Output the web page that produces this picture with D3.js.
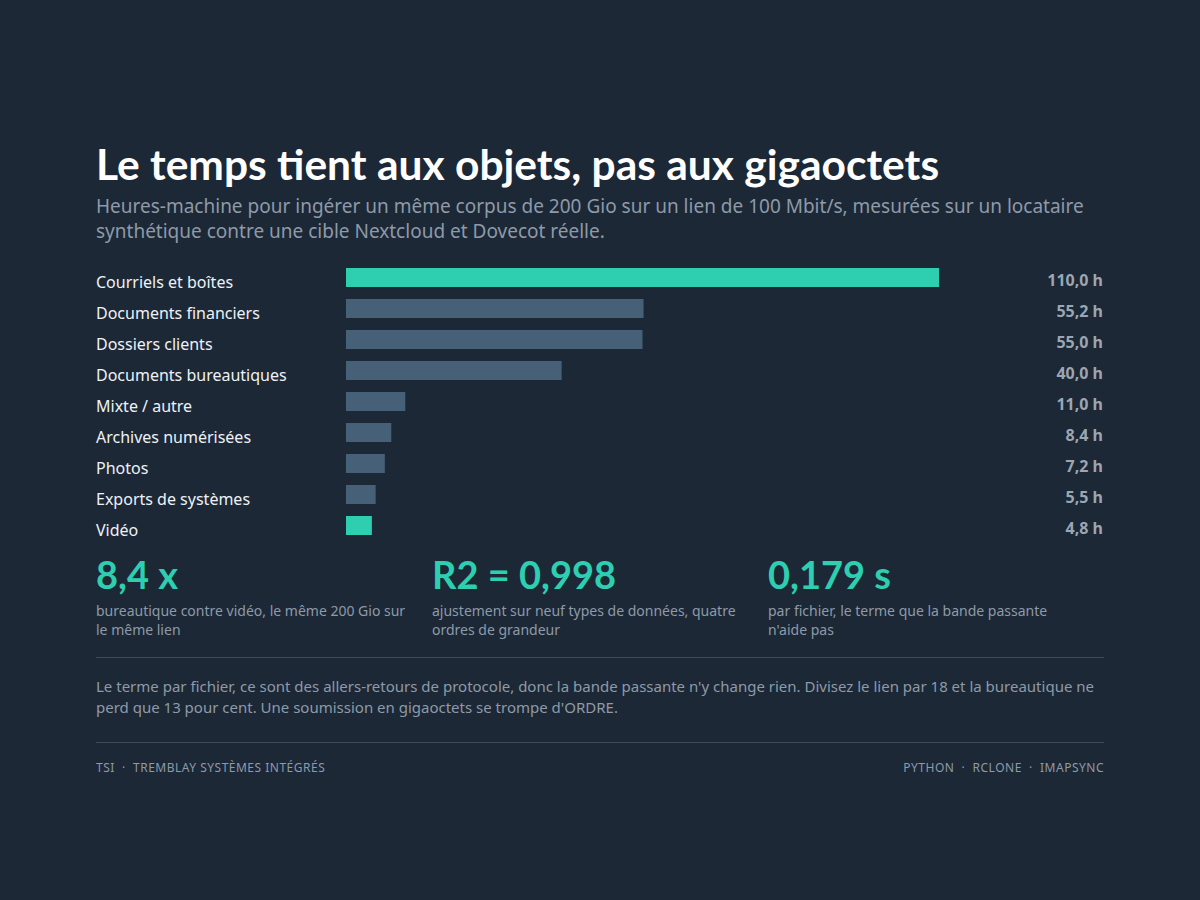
<!DOCTYPE html>
<html lang="fr">
<head>
  <meta charset="UTF-8" />
  <title>Le temps tient aux objets, pas aux gigaoctets</title>
  <script src="https://d3js.org/d3.v7.min.js"></script>
  <style>
    html, body {
      margin: 0;
      padding: 0;
      background-color: #1c2836;
    }
    svg {
      display: block;
    }
    text {
      font-family: 'Noto Sans', sans-serif;
      white-space: pre;
    }
    .title, .stat {
      font-family: Lato, sans-serif;
      font-weight: 700;
    }
  </style>
</head>
<body>
  <div id="chart"></div>

  <script>
    // Data
    const categories = [
      "Courriels et boîtes", "Documents financiers", "Dossiers clients",
      "Documents bureautiques", "Mixte / autre", "Archives numérisées",
      "Photos", "Exports de systèmes", "Vidéo"
    ];
    const hours = [110.0, 55.2, 55.0, 40.0, 11.0, 8.4, 7.2, 5.5, 4.8];
    const highlighted = ["Courriels et boîtes", "Vidéo"];

    const statValues = ["8,4 x", "R2 = 0,998", "0,179 s"];
    const statNotes = [
      ["bureautique contre vidéo, le même 200 Gio sur", "le même lien"],
      ["ajustement sur neuf types de données, quatre", "ordres de grandeur"],
      ["par fichier, le terme que la bande passante", "n'aide pas"]
    ];

    const titleText = "Le temps tient aux objets, pas aux gigaoctets";
    const subtitleLines = [
      "Heures-machine pour ingérer un même corpus de 200 Gio sur un lien de 100 Mbit/s, mesurées sur un locataire",
      "synthétique contre une cible Nextcloud et Dovecot réelle."
    ];
    const noteLines = [
      "Le terme par fichier, ce sont des allers-retours de protocole, donc la bande passante n'y change rien. Divisez le lien par 18 et la bureautique ne",
      "perd que 13 pour cent. Une soumission en gigaoctets se trompe d'ORDRE."
    ];
    const footerLeft = ["TSI", "TREMBLAY SYSTÈMES INTÉGRÉS"];
    const footerRight = ["PYTHON", "RCLONE", "IMAPSYNC"];

    const width = 1200, height = 900;
    const left = 96, right = 1104;
    const teal = "#2ecfb0", slate = "#466078";
    const muted = "#8e9aa8", rule = "#3b4a5a";

    const svg = d3.select("#chart")
      .append("svg")
      .attr("width", width)
      .attr("height", height);

    svg.append("rect")
      .attr("width", width)
      .attr("height", height)
      .attr("fill", "#1c2836");

    // Heading
    svg.append("text")
      .attr("class", "title")
      .attr("x", left)
      .attr("y", 180)
      .attr("font-size", "42.5px")
      .attr("fill", "#ffffff")
      .text(titleText);

    svg.append("g")
      .selectAll("text")
      .data(subtitleLines)
      .enter()
      .append("text")
      .attr("x", left)
      .attr("y", (d, i) => 213 + i * 25)
      .attr("font-size", "19px")
      .attr("fill", muted)
      .text(d => d);

    // Bars
    const x = d3.scaleLinear()
      .domain([0, 110])
      .range([346, 939]);

    const y = d3.scaleBand()
      .domain(categories)
      .range([262, 541])
      .paddingInner(12 / 31)
      .paddingOuter(6 / 31);

    const rows = svg.append("g")
      .selectAll("g")
      .data(categories.map((c, i) => ({ name: c, value: hours[i] })))
      .enter()
      .append("g");

    rows.append("rect")
      .attr("x", x(0))
      .attr("y", d => y(d.name))
      .attr("width", d => x(d.value) - x(0))
      .attr("height", y.bandwidth())
      .attr("fill", d => highlighted.includes(d.name) ? teal : slate);

    rows.append("text")
      .attr("x", left)
      .attr("y", d => y(d.name) + y.bandwidth() / 2 + 10)
      .attr("font-size", "16px")
      .attr("fill", "#eef2f6")
      .text(d => d.name);

    rows.append("text")
      .attr("x", 1103)
      .attr("y", d => y(d.name) + y.bandwidth() / 2 + 8.5)
      .attr("text-anchor", "end")
      .attr("font-size", "16px")
      .attr("font-weight", 700)
      .attr("fill", "#9ba6b2")
      .text(d => d3.format(".1f")(d.value).replace(".", ",") + " h");

    // Key figures
    const colX = d3.scalePoint()
      .domain(d3.range(statValues.length))
      .range([left, left + 672]);

    const stats = svg.append("g")
      .selectAll("g")
      .data(statValues)
      .enter()
      .append("g")
      .attr("transform", (d, i) => `translate(${colX(i)},0)`);

    stats.append("text")
      .attr("class", "stat")
      .attr("y", 589)
      .attr("font-size", "38px")
      .attr("fill", teal)
      .text(d => d);

    stats.each(function (d, i) {
      d3.select(this).selectAll("text.note")
        .data(statNotes[i])
        .enter()
        .append("text")
        .attr("class", "note")
        .attr("y", (t, j) => 616 + j * 19)
        .attr("font-size", "14px")
        .attr("fill", muted)
        .text(t => t);
    });

    // Rules and closing note
    svg.append("line")
      .attr("x1", left).attr("x2", right)
      .attr("y1", 657.5).attr("y2", 657.5)
      .attr("stroke", rule);

    svg.append("g")
      .selectAll("text")
      .data(noteLines)
      .enter()
      .append("text")
      .attr("x", left)
      .attr("y", (d, i) => 692 + i * 21)
      .attr("font-size", "15px")
      .attr("fill", muted)
      .text(d => d);

    svg.append("line")
      .attr("x1", left).attr("x2", right)
      .attr("y1", 742.5).attr("y2", 742.5)
      .attr("stroke", rule);

    // Footer
    svg.append("text")
      .attr("x", left)
      .attr("y", 772)
      .attr("font-size", "12px")
      .attr("letter-spacing", "0.5px")
      .attr("fill", muted)
      .text(footerLeft.join("  ·  "));

    svg.append("text")
      .attr("x", right)
      .attr("y", 772)
      .attr("text-anchor", "end")
      .attr("font-size", "12px")
      .attr("letter-spacing", "0.5px")
      .attr("fill", muted)
      .text(footerRight.join("  ·  "));
  </script>
</body>
</html>
